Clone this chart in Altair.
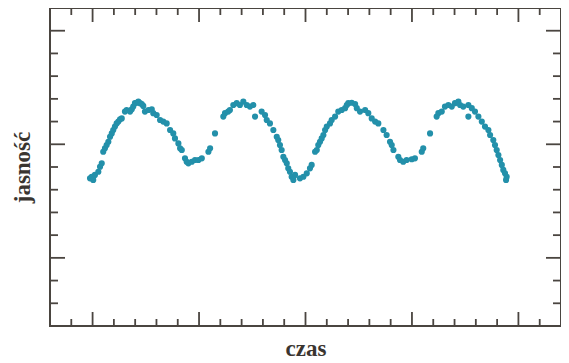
import altair as alt
import pandas as pd

# light-curve points (time in tick units, brightness in tick units)
czas = [1.88, 1.96, 2.03, 2.11, 2.27, 2.35, 2.43, 2.50, 2.58, 2.66, 2.74, 2.82, 2.90, 2.97,
        3.05, 3.13, 3.21, 3.29, 3.37, 3.52, 3.60, 3.76, 3.84, 3.91, 3.99, 4.07, 4.15, 4.23,
        4.31, 4.38, 4.46, 4.62, 4.78, 4.85, 5.01, 5.17, 5.32, 5.48, 5.64, 5.79, 5.87, 6.03,
        6.11, 6.19, 6.34, 6.42, 6.50, 6.66, 6.81, 6.97, 7.13, 7.44, 7.52, 7.75, 8.14, 8.22,
        8.37, 8.45, 8.61, 8.77, 8.92, 9.08, 9.24, 9.39, 9.55, 9.63,
        9.94, 10.10, 10.18, 10.33, 10.49, 10.65, 10.72, 10.80, 10.88, 10.96, 11.04, 11.12,
        11.19, 11.27, 11.35, 11.43, 11.51, 11.74, 11.90, 12.06, 12.21, 12.29, 12.45, 12.53,
        12.60, 12.68, 12.76, 12.84, 12.92, 13.00, 13.15, 13.23, 13.39, 13.54, 13.70, 13.86,
        13.94, 14.01, 14.17, 14.33, 14.41, 14.56, 14.80, 14.95, 15.11, 15.27, 15.42, 15.66,
        15.81, 15.97, 16.05, 16.13, 16.36, 16.44, 16.59, 16.75, 16.99, 17.14, 17.46, 17.53,
        17.85, 18.16, 18.24, 18.40, 18.55, 18.71, 18.87, 19.02, 19.18, 19.26, 19.41, 19.65,
        19.65, 19.81, 19.96, 20.12, 20.28, 20.43, 20.59, 20.67, 20.82, 20.90, 20.98, 21.06,
        21.14, 21.22, 21.29, 21.37, 21.45, 21.42]
jasnosc = [6.50, 6.57, 6.43, 6.65, 6.79, 7.01, 7.16, 7.67, 7.82, 7.97, 8.11, 8.33, 8.48, 8.63,
           8.78, 8.92, 9.00, 9.10, 9.14, 9.44, 9.51, 9.44, 9.54, 9.66, 9.81, 9.83, 9.88, 9.81,
           9.77, 9.69, 9.44, 9.51, 9.54, 9.37, 9.29, 9.07, 9.00, 8.92, 8.63, 8.48, 8.26, 8.04,
           7.82, 7.75, 7.38, 7.23, 7.16, 7.23, 7.31, 7.31, 7.38, 7.67, 7.82, 8.48, 9.22, 9.37,
           9.44, 9.51, 9.73, 9.81, 9.73, 9.88, 9.73, 9.66, 9.73, 9.22,
           9.44, 9.29, 9.07, 8.92, 8.63, 8.33, 8.19, 7.97, 7.75, 7.45, 7.31, 7.16,
           6.94, 6.79, 6.57, 6.43, 6.65, 6.50, 6.57, 6.72, 6.94, 7.09, 7.67, 7.75,
           7.97, 8.11, 8.26, 8.41, 8.63, 8.78, 8.92, 9.07, 9.22, 9.44, 9.51, 9.59,
           9.73, 9.81, 9.83, 9.77, 9.59, 9.44, 9.51, 9.37, 9.14, 9.00, 8.92, 8.63,
           8.41, 8.11, 7.97, 7.75, 7.45, 7.31, 7.23, 7.31, 7.34, 7.38, 7.67, 7.82,
           8.48, 9.22, 9.37, 9.44, 9.66, 9.73, 9.66, 9.81, 9.88, 9.73, 9.66, 9.73,
           9.22, 9.59, 9.44, 9.22, 9.00, 8.78, 8.63, 8.41, 8.19, 7.97, 7.75, 7.53,
           7.31, 7.09, 6.87, 6.72, 6.57, 6.43]

x_major = [2, 7, 12, 17, 22]
x_minor = [v for v in range(1, 24) if v not in x_major]
y_major = [3, 8, 13]
y_minor = [v for v in range(1, 14) if v not in y_major]

W, H = 511, 318
FRAME = "#4a4540"
DOT = "#2390aa"
FONT = "Liberation Serif"

xs = alt.Scale(domain=[0, 24], nice=False, zero=False)
ys = alt.Scale(domain=[0, 14], nice=False, zero=False)

df = pd.DataFrame({"czas": czas, "jasnosc": jasnosc})

points = alt.Chart(df).mark_circle(size=38, color=DOT, opacity=1).encode(
    x=alt.X("czas:Q", scale=xs,
            axis=alt.Axis(title="czas", labels=False, ticks=False, domain=False, grid=False,
                          titleFont=FONT, titleFontSize=23, titleFontWeight="bold",
                          titleColor="#3a3530", titleBaseline="alphabetic", titleY=29,
                          titleX=W / 2, titleAlign="center")),
    y=alt.Y("jasnosc:Q", scale=ys,
            axis=alt.Axis(title="jasność", labels=False, ticks=False, domain=False, grid=False,
                          titleFont=FONT, titleFontSize=23, titleFontWeight="bold",
                          titleColor="#3a3530", titleBaseline="alphabetic", titleAngle=270,
                          titleX=-21, titleY=159, titleAlign="center")),
)


def xticks(vals, length, top):
    d = pd.DataFrame({"czas": vals})
    y0 = 0 if top else H
    y1 = length if top else H - length
    return alt.Chart(d).mark_rule(color=FRAME, strokeWidth=1.8).encode(
        x=alt.X("czas:Q", scale=xs),
        y=alt.value(y0), y2=alt.value(y1))


def yticks(vals, length, right):
    d = pd.DataFrame({"jasnosc": vals})
    x0 = W if right else 0
    x1 = W - length if right else length
    return alt.Chart(d).mark_rule(color=FRAME, strokeWidth=1.8).encode(
        y=alt.Y("jasnosc:Q", scale=ys),
        x=alt.value(x0), x2=alt.value(x1))


layers = [
    points,
    xticks(x_major, 14, False), xticks(x_minor, 7, False),
    xticks(x_major, 14, True), xticks(x_minor, 7, True),
    yticks(y_major, 15, False), yticks(y_minor, 8, False),
    yticks(y_major, 15, True), yticks(y_minor, 8, True),
]

chart = alt.layer(*layers).properties(
    width=W, height=H,
    autosize=alt.AutoSizeParams(type="none"),
    padding={"left": 42, "top": 0, "right": 0, "bottom": 37},
    background="white",
).configure_view(stroke=FRAME, strokeWidth=2)

chart.save("out.html", embed_options={"renderer": "svg", "actions": False})
